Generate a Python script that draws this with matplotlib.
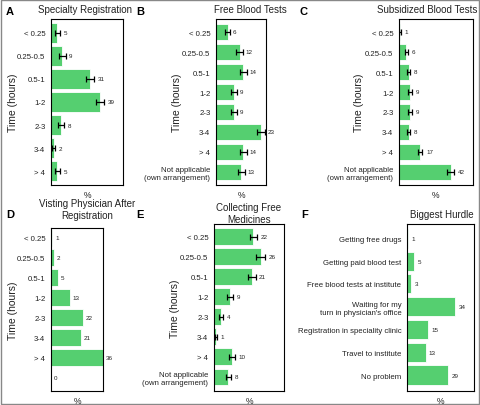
import numpy as np
import matplotlib
matplotlib.use('Agg')
import matplotlib.pyplot as plt
from matplotlib.patches import Rectangle

plt.rcParams['font.family'] = ['Liberation Sans', 'DejaVu Sans']

W, H = 480, 406
GREEN = '#55cf70'
TEXT = '#222222'

time_cats = ['< 0.25', '0.25-0.5', '0.5-1', '1-2', '2-3', '3-4', '> 4']
na_cat = 'Not applicable\n(own arrangement)'

spec_vals = [5, 9, 31, 39, 8, 2, 5]
spec_err = [2, 2.5, 3, 3, 2.2, 1, 2]

free_blood_vals = [6, 12, 14, 9, 9, 23, 14, 13]
free_blood_err = [1.3, 1.8, 1.9, 1.6, 1.6, 2.2, 1.9, 1.9]

sub_blood_vals = [1, 6, 8, 9, 9, 8, 17, 42]
sub_blood_err = [0.6, 1.2, 1.3, 1.3, 1.3, 1.3, 2, 2.7]

visit_vals = [1, 2, 5, 13, 22, 21, 36, 0]

medicine_vals = [22, 26, 21, 9, 4, 1, 10, 8]
medicine_err = [2.2, 2.4, 2.2, 1.6, 1.1, 0.6, 1.7, 1.5]

hurdle_cats = ['Getting free drugs', 'Getting paid blood test',
               'Free blood tests at institute', "Waiting for my\nturn in physician's office",
               'Registration in speciality clinic', 'Travel to institute', 'No problem']
hurdle_vals = [1, 5, 3, 34, 15, 13, 29]


def fig_box(l, t, r, b):
    return [l / W, 1 - b / H, (r - l) / W, (b - t) / H]


def panel(fig, box, cats, vals, err, xmax, pad_top, pad_bot, ylabel=True, ylab_x=None):
    ax = fig.add_axes(fig_box(*box))
    y = np.arange(len(vals))
    ax.barh(y, vals, height=0.84, color=GREEN, edgecolor='white', linewidth=0.6)
    if err is not None:
        ax.errorbar(vals, y, xerr=err, fmt='none', ecolor='black',
                    elinewidth=0.9, capsize=2.2, capthick=0.9)
        ends = np.array(vals) + np.array(err)
    else:
        ends = np.array(vals, dtype=float)
    for yi, e, v in zip(y, ends, vals):
        ax.text(e + xmax * 0.05, yi, str(v), fontsize=4.5, va='center', ha='left', color=TEXT)
    ax.set_xlim(0, xmax)
    ax.set_ylim(len(vals) - 1 + pad_bot, -pad_top)
    ax.set_yticks(y[:len(cats)])
    ax.set_yticklabels(cats, fontsize=5.6, color=TEXT, linespacing=1.2)
    ax.tick_params(axis='y', length=0, pad=4)
    ax.set_xticks([])
    for s in ax.spines.values():
        s.set_linewidth(0.8)
    l, t, r, b = box
    fig.text(((l + r) / 2) / W, 1 - (b + 10) / H, '%', fontsize=6.2, ha='center', va='center', color=TEXT)
    if ylabel:
        fig.text(ylab_x / W, 1 - ((t + b) / 2) / H, 'Time (hours)', fontsize=7.5,
                 rotation=90, ha='center', va='center', color=TEXT)
    return ax


fig = plt.figure(figsize=(W / 100, H / 100), dpi=100)

panel(fig, (51, 20, 123, 186), time_cats, spec_vals, spec_err, 57, 0.6, 0.6, ylab_x=13)
panel(fig, (216, 20, 266, 186), time_cats + [na_cat], free_blood_vals, free_blood_err, 25.5, 0.65, 0.65, ylab_x=177)
panel(fig, (399, 20, 473, 186), time_cats + [na_cat], sub_blood_vals, sub_blood_err, 60, 0.65, 0.65, ylab_x=359)
panel(fig, (51, 229, 103, 392), time_cats, visit_vals, None, 36, 0.5, 0.7, ylab_x=13)
panel(fig, (214, 225, 284, 392), time_cats + [na_cat], medicine_vals, medicine_err, 39, 0.63, 0.7, ylab_x=175)
panel(fig, (407, 225, 474, 392), hurdle_cats, hurdle_vals, None, 47, 0.63, 0.7, ylabel=False)

titles = [
    (85, 10, 'Specialty Registration'),
    (250, 10, 'Free Blood Tests'),
    (427, 10, 'Subsidized Blood Tests'),
    (87, 210, 'Visting Physician After\nRegistration'),
    (249, 214, 'Collecting Free\nMedicines'),
    (442, 215, 'Biggest Hurdle'),
]
for x, yy, s in titles:
    fig.text(x / W, 1 - yy / H, s, fontsize=7, ha='center', va='center',
             color=TEXT, linespacing=1.15)

letters = [(10, 12, 'A'), (140, 12, 'B'), (304, 12, 'C'),
           (10, 215, 'D'), (140, 215, 'E'), (305, 215, 'F')]
for x, yy, s in letters:
    fig.text(x / W, 1 - yy / H, s, fontsize=8, fontweight='bold', ha='center', va='center', color='black')

fig.patches.append(Rectangle((0.002, 0.002), 0.996, 0.996, transform=fig.transFigure,
                             fill=False, edgecolor='#888888', linewidth=1))

fig.savefig('out.png', dpi=100)
